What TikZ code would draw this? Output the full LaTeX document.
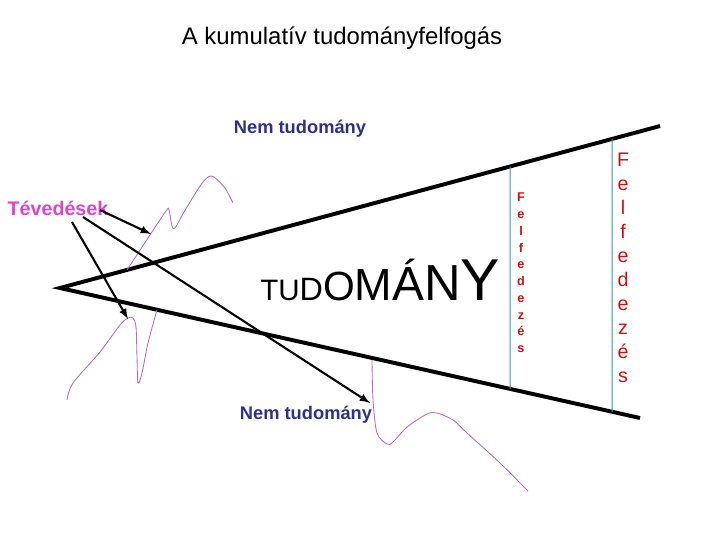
\documentclass[tikz,border=0pt]{standalone}
\usepackage{fontspec}
\setmainfont{Liberation Sans}
\usepackage{tikz}
\usetikzlibrary{arrows,positioning,calc}
\definecolor{nemblue}{HTML}{2E3188}
\definecolor{tevpink}{HTML}{DD44CC}
\definecolor{felred}{HTML}{CC1111}
\definecolor{edgeteal}{HTML}{339999}
\definecolor{curvemag}{HTML}{BB66BB}
\newcommand{\growletter}[2]{{\fontsize{#1}{#1}\selectfont #2}}

\begin{document}
\begin{tikzpicture}[x=0.025cm, y=-0.025cm]
\useasboundingbox (0,0) rectangle (720,540);
\tikzset{
  bigline/.style={line width=2.8pt},
  errarrow/.style={-latex, line width=1.5pt},
  wiggle/.style={curvemag, line width=0.6pt},
  frontier/.style={edgeteal, line width=0.7pt}
}
% title
\node (title) at (342,38) {\fontsize{17}{20}\selectfont A kumulatív tudományfelfogás};
% labels
\node[nemblue, font=\bfseries\fontsize{13}{15}\selectfont] (nemtop) at (300,129) {Nem tudomány};
\node[nemblue, font=\bfseries\fontsize{13}{15}\selectfont] (nembot) at (306,415) {Nem tudomány};
\node[tevpink, font=\bfseries\fontsize{14}{16}\selectfont] (tev) at (58,208) {Tévedések};
\node[anchor=base west, inner sep=0pt] (tud) at (260,300) {\growletter{21}{T}\growletter{21}{U}\growletter{23}{D}\growletter{29}{O}\growletter{32}{M}\growletter{34}{Á}\growletter{36}{N}\growletter{42}{Y}};
% the cone
\coordinate (apex) at (60,288);
\coordinate (uend) at (660,126);
\coordinate (lend) at (640,418);
\draw[bigline] (uend) -- (apex) -- (lend);
% frontiers
\coordinate (f1t) at ($(apex)!0.75!(uend)$);
\coordinate (f1b) at ($(apex)!0.776!(lend)$);
\coordinate (f2t) at ($(apex)!0.92!(uend)$);
\coordinate (f2b) at ($(apex)!0.952!(lend)$);
\draw[frontier] (f1t) -- (f1b);
\draw[frontier] (f2t) -- (f2b);
\node[felred, font=\bfseries\fontsize{9}{11.9}\selectfont, align=center] (felsmall) at (521,273) {F\\e\\l\\f\\e\\d\\e\\z\\é\\s};
\node[felred, font=\fontsize{14}{17.1}\selectfont, align=center] (felbig) at (623,268) {F\\e\\l\\f\\e\\d\\e\\z\\é\\s};
% error curves
\draw[wiggle] plot[smooth, tension=0.5] coordinates {(127,270) (148,238) (166,211) (169,210) (172,226) (175,228) (184,212) (200,186) (208,177) (214,177) (225,188) (233,203)};
\draw[wiggle] plot[smooth, tension=0.5] coordinates {(67,400) (73,383) (100,352) (120,325) (128,318) (133,318) (136,327) (137,357) (138,383) (142,373) (148,343) (157,310)};
\draw[wiggle] plot[smooth, tension=0.5] coordinates {(372,360) (373,400) (377,433) (387,444) (393,442) (407,427) (427,414) (437,413) (453,420) (467,433) (500,463) (528,491)};
% arrows
\coordinate (a1s) at (100,210);
\coordinate (a2s) at (83,217);
\coordinate (a3s) at (72,222);
\coordinate (a1e) at (151,234);
\coordinate (a2e) at (370,403);
\coordinate (a3e) at (128,319);
\draw[errarrow] (a1s) -- (a1e);
\draw[errarrow] (a2s) -- (a2e);
\draw[errarrow] (a3s) -- (a3e);
\end{tikzpicture}
\end{document}
